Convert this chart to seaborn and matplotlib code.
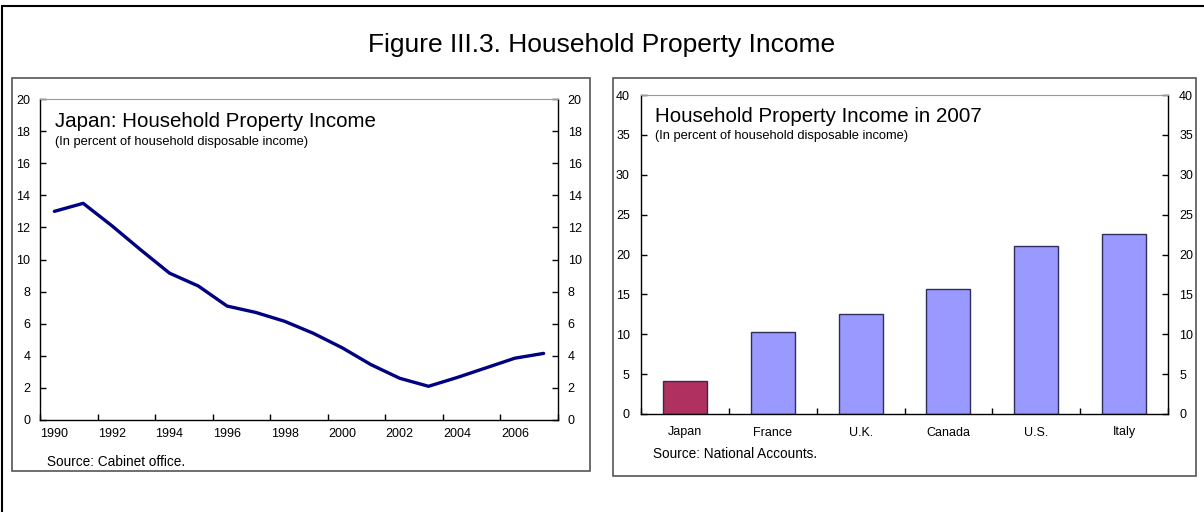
import numpy as np
import pandas as pd
import seaborn as sns
import matplotlib.pyplot as plt
from matplotlib.patches import Rectangle
from matplotlib.ticker import FixedLocator, NullFormatter

# data
years = list(range(1990, 2008))
japan_income = [13.0, 13.5, 12.1, 10.6, 9.15, 8.35, 7.1, 6.7, 6.15, 5.4,
                4.5, 3.45, 2.6, 2.1, 2.65, 3.25, 3.85, 4.15]

countries = ["Japan", "France", "U.K.", "Canada", "U.S.", "Italy"]
income_2007 = [4.1, 10.3, 12.5, 15.7, 21.1, 22.6]
bar_colors = ["#B0305F", "#9999FF", "#9999FF", "#9999FF", "#9999FF", "#9999FF"]

sns.set_style("white")
plt.rcParams["font.family"] = ["Liberation Sans", "DejaVu Sans"]
plt.rcParams["text.color"] = "black"
plt.rcParams["xtick.color"] = "black"
plt.rcParams["ytick.color"] = "black"

fig = plt.figure(figsize=(12.04, 5.12), dpi=100)

# frames
fig.patches.append(Rectangle((2 / 1204, -0.1), 1.2, 1.1 - 6 / 512, transform=fig.transFigure,
                             fill=False, edgecolor="black", lw=1.5))
fig.patches.append(Rectangle((12 / 1204, 1 - 471 / 512), 578 / 1204, 393 / 512,
                             transform=fig.transFigure, fill=False, edgecolor="#555555", lw=1.2))
fig.patches.append(Rectangle((613 / 1204, 1 - 476 / 512), 583 / 1204, 398 / 512,
                             transform=fig.transFigure, fill=False, edgecolor="#555555", lw=1.2))

fig.text(0.5, 1 - 45 / 512, "Figure III.3. Household Property Income",
         ha="center", va="center", fontsize=19)


def style_axes(ax):
    for s in ["left", "right", "bottom"]:
        ax.spines[s].set_visible(True)
        ax.spines[s].set_color("black")
        ax.spines[s].set_linewidth(1.0)
    ax.spines["top"].set_visible(True)
    ax.spines["top"].set_color("#999999")
    ax.spines["top"].set_linewidth(0.8)
    ax.set_xlabel("")
    ax.set_ylabel("")


# left: Japan line
ax1 = fig.add_axes([40 / 1204, 1 - 420 / 512, 518 / 1204, 321 / 512])
df1 = pd.DataFrame({"year": years, "income": japan_income})
sns.lineplot(data=df1, x="year", y="income", ax=ax1, color="#000080", lw=2.4)
ax1.set_xlim(1989.5, 2007.5)
ax1.set_ylim(0, 20)
ax1.set_yticks(range(0, 21, 2))
ax1.set_xticks(range(1990, 2007, 2))
ax1.xaxis.set_minor_locator(FixedLocator(np.arange(1989.5, 2008, 2)))
ax1.xaxis.set_minor_formatter(NullFormatter())
style_axes(ax1)
ax1.tick_params(axis="x", which="major", length=0, pad=6, labelsize=9)
ax1.tick_params(axis="x", which="minor", direction="in", length=4, width=1, bottom=True)
ax1.tick_params(axis="y", direction="in", length=4, width=1, left=True, right=True,
                labelleft=True, labelright=True, pad=7, labelsize=9)
fig.text(55 / 1204, 1 - 127 / 512, "Japan: Household Property Income",
         fontsize=14.8, va="baseline")
fig.text(55 / 1204, 1 - 145 / 512, "(In percent of household disposable income)",
         fontsize=9.3, va="baseline")
fig.text(47 / 1204, 1 - 462 / 512, "Source: Cabinet office.", fontsize=9.8, va="center")

# right: bars
ax2 = fig.add_axes([641 / 1204, 1 - 414 / 512, 527 / 1204, 319 / 512])
df2 = pd.DataFrame({"country": countries, "income": income_2007})
sns.barplot(data=df2, x="country", y="income", hue="country", palette=bar_colors,
            legend=False, width=0.5, edgecolor="#2E2E5C", linewidth=1.0, ax=ax2,
            saturation=1)
ax2.set_xlim(-0.5, 5.5)
ax2.set_ylim(0, 40)
ax2.set_yticks(range(0, 41, 5))
ax2.xaxis.set_minor_locator(FixedLocator(np.arange(-0.5, 6, 1)))
ax2.xaxis.set_minor_formatter(NullFormatter())
style_axes(ax2)
ax2.tick_params(axis="x", which="major", length=0, pad=9, labelsize=9)
ax2.tick_params(axis="x", which="minor", direction="in", length=4, width=1, bottom=True)
ax2.tick_params(axis="y", direction="in", length=4, width=1, left=True, right=True,
                labelleft=True, labelright=True, pad=8, labelsize=9)
fig.text(655 / 1204, 1 - 122 / 512, "Household Property Income in 2007",
         fontsize=14.8, va="baseline")
fig.text(655 / 1204, 1 - 139 / 512, "(In percent of household disposable income)",
         fontsize=9.3, va="baseline")
fig.text(653 / 1204, 1 - 454 / 512, "Source: National Accounts.", fontsize=9.8, va="center")

fig.savefig("out.png", dpi=100)
